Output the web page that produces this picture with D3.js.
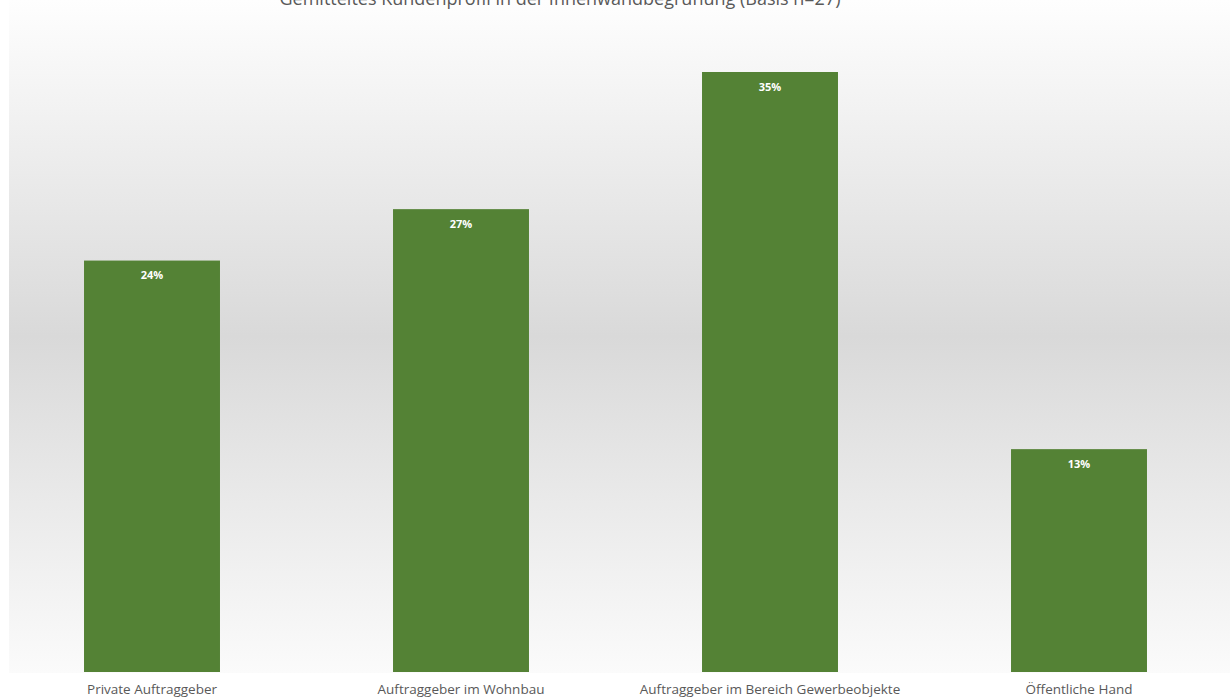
<!DOCTYPE html>
<html><head><meta charset="utf-8">
<script src="https://cdn.jsdelivr.net/npm/d3@7"></script>
<style>body{margin:0;background:#fff}svg{display:block}</style>
</head><body>
<svg id="c" width="1230" height="699"></svg>
<script>
const categories = ["Private Auftraggeber","Auftraggeber im Wohnbau","Auftraggeber im Bereich Gewerbeobjekte","Öffentliche Hand"];
const values = [24, 27, 35, 13];
const valueLabels = ["24%","27%","35%","13%"];
const title = "Gemitteltes Kundenprofil in der Innenwandbegrünung (Basis n=27)";

const svg = d3.select("#c");
const defs = svg.append("defs");
const g = defs.append("linearGradient").attr("id","bg").attr("x1",0).attr("y1",0).attr("x2",0).attr("y2",1);
g.append("stop").attr("offset","0%").attr("stop-color","#fefefe");
g.append("stop").attr("offset","50%").attr("stop-color","#d9d9d9");
g.append("stop").attr("offset","100%").attr("stop-color","#fbfbfb");

svg.append("rect").attr("x",9).attr("y",0).attr("width",1221).attr("height",673).attr("fill","url(#bg)");

const x = d3.scaleBand().domain(categories).range([-2.5,1233.5]).paddingInner(0.56).paddingOuter(0.28);
const y = d3.scaleLinear().domain([0,35]).range([672,72]);

svg.append("text").attr("x",560).attr("y",4.5).attr("text-anchor","middle")
  .attr("font-family","Open Sans").attr("font-size",18).attr("fill","#595959").text(title);

svg.selectAll("rect.bar").data(values).join("rect").attr("class","bar")
  .attr("x",(d,i)=>x(categories[i])).attr("width",x.bandwidth())
  .attr("y",d=>y(d)).attr("height",d=>y(0)-y(d)).attr("fill","#548235");

svg.selectAll("text.val").data(values).join("text").attr("class","val")
  .attr("x",(d,i)=>x(categories[i])+x.bandwidth()/2).attr("y",d=>y(d)+18.5)
  .attr("text-anchor","middle").attr("font-family","Open Sans").attr("font-weight","bold")
  .attr("font-size",11).attr("fill","#ffffff").text((d,i)=>valueLabels[i]);

const ax = svg.append("g").attr("transform","translate(0,672)").call(d3.axisBottom(x).tickSize(0).tickPadding(12));
ax.select(".domain").remove();
ax.selectAll("text").attr("font-family","Open Sans").attr("font-size",13.5).attr("fill","#595959");
</script>
</body></html>
